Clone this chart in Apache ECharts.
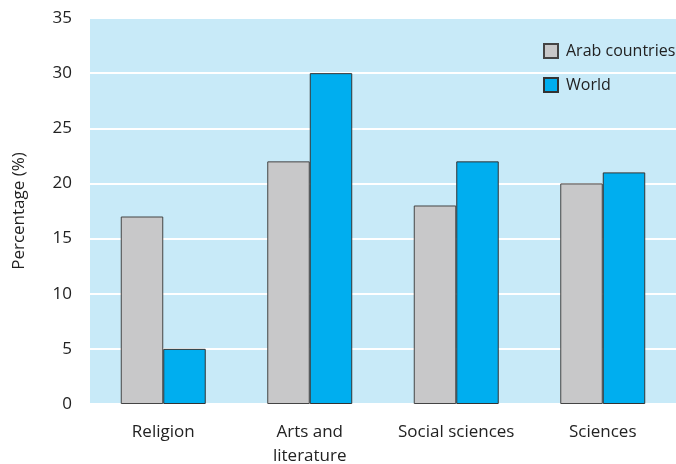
<!DOCTYPE html>
<html>
<head>
<meta charset="utf-8">
<script src="https://cdn.jsdelivr.net/npm/echarts@6/dist/echarts.min.js"></script>
<style>
  html, body { margin: 0; padding: 0; background: #fff; }
  #chart { width: 676px; height: 464px; }
</style>
</head>
<body>
<div id="chart"></div>
<script>
const categories = ["Religion", "Arts and\nliterature", "Social sciences", "Sciences"];
const arabValues = [17, 22, 18, 20];
const worldValues = [5, 30, 22, 21];
const seriesNames = ["Arab countries", "World"];

const chart = echarts.init(document.getElementById("chart"));
const font = "'Open Sans', 'Noto Sans', sans-serif";

const option = {
  animation: false,
  grid: {
    left: 90,
    right: 0,
    top: 18,
    bottom: 60,
    outerBoundsMode: "none",
    containLabel: false,
    show: true,
    backgroundColor: "#c8eaf8",
    borderWidth: 0,
  },
  legend: {
    orient: "vertical",
    left: 543,
    top: 43,
    padding: 0,
    icon: "rect",
    itemWidth: 14,
    itemHeight: 14,
    itemGap: 18,
    data: seriesNames,
    textStyle: { fontFamily: font, fontSize: 16, color: "#222", padding: [0, 0, 0, 3] },
  },
  xAxis: {
    type: "category",
    data: categories,
    axisLine: { show: false },
    axisTick: { show: false },
    axisLabel: {
      interval: 0,
      margin: 16,
      fontFamily: font,
      fontSize: 17,
      color: "#222",
      lineHeight: 24,
    },
  },
  yAxis: {
    type: "value",
    min: 0,
    max: 35,
    interval: 5,
    name: "Percentage (%)",
    nameLocation: "middle",
    nameGap: 62,
    nameTextStyle: { fontFamily: font, fontSize: 17, color: "#222" },
    axisLine: { show: false },
    axisTick: { show: false },
    axisLabel: { margin: 18, fontFamily: font, fontSize: 17, color: "#222" },
    splitLine: { lineStyle: { color: "#ffffff", width: 2 } },
  },
  series: [
    {
      name: seriesNames[0],
      type: "bar",
      data: arabValues,
      barWidth: "29%",
      barGap: "0%",
      itemStyle: { color: "#c8c8c9", borderColor: "#444", borderWidth: 1 },
    },
    {
      name: seriesNames[1],
      type: "bar",
      data: worldValues,
      barWidth: "29%",
      itemStyle: { color: "#00aeef", borderColor: "#333", borderWidth: 1 },
    },
  ],
};
chart.setOption(option);
</script>
</body>
</html>
